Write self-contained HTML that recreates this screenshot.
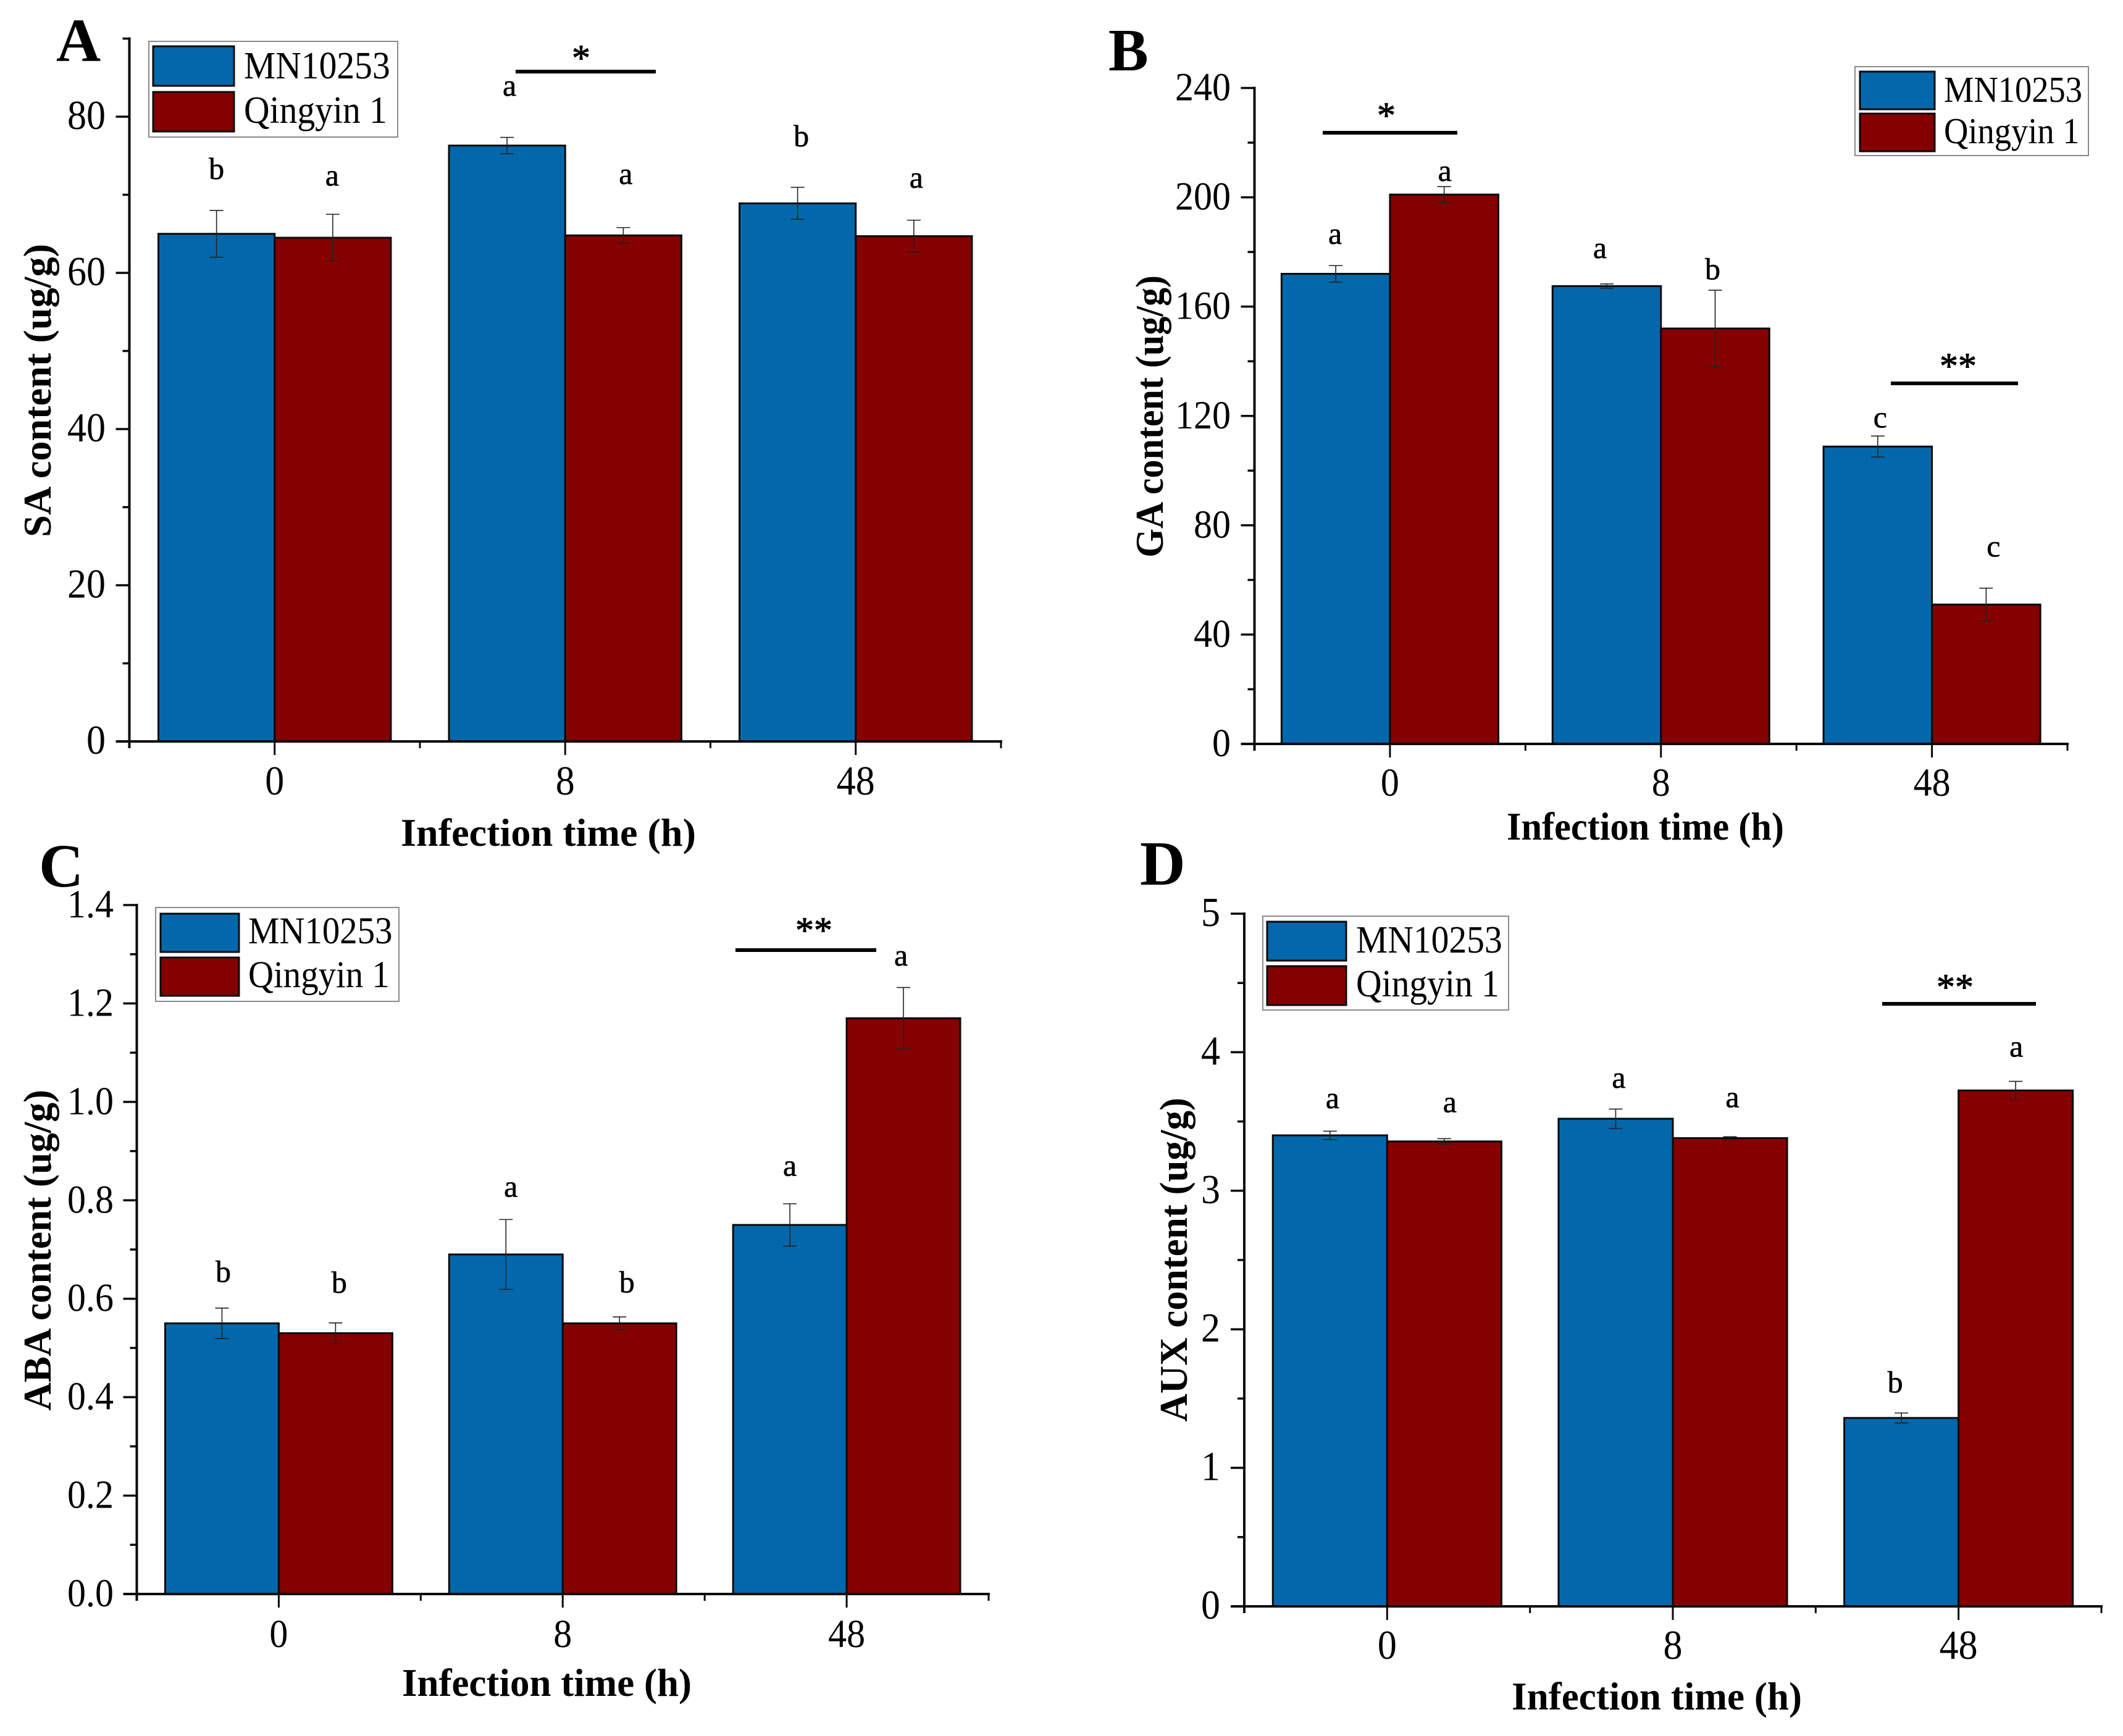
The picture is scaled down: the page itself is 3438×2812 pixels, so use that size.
<!DOCTYPE html>
<html lang="en">
<head>
<meta charset="utf-8">
<title>Hormone content after infection</title>
<style>
html,body{margin:0;padding:0;background:#fff;}
svg{display:block;font-family:"Liberation Serif",serif;}
</style>
</head>
<body>
<svg id="figure" xmlns="http://www.w3.org/2000/svg" width="3438" height="2812" viewBox="0 0 3438 2812"></svg>
<script>
const categories = ['0', '8', '48'];
const seriesNames = ['MN10253', 'Qingyin 1'];

const saTicks = [0, 20, 40, 60, 80];
const saTickLabels = ['0', '20', '40', '60', '80'];
const saMinorTicks = [10, 30, 50, 70, 90];
const saMN = [65, 76.3, 68.9];
const saQY = [64.5, 64.8, 64.7];
const saMNErr = [3, 1.05, 2.05];
const saQYErr = [3, 1, 2.05];
const saMNLetters = ['b', 'a', 'b'];
const saQYLetters = ['a', 'a', 'a'];

const gaTicks = [0, 40, 80, 120, 160, 200, 240];
const gaTickLabels = ['0', '40', '80', '120', '160', '200', '240'];
const gaMinorTicks = [20, 60, 100, 140, 180, 220];
const gaMN = [172, 167.5, 108.8];
const gaQY = [201, 152, 51];
const gaMNErr = [3, 0.8, 3.85];
const gaQYErr = [2.9, 14, 6];
const gaMNLetters = ['a', 'a', 'c'];
const gaQYLetters = ['a', 'b', 'c'];

const abaTicks = [0, 0.2, 0.4, 0.6, 0.8, 1.0, 1.2, 1.4];
const abaTickLabels = ['0.0', '0.2', '0.4', '0.6', '0.8', '1.0', '1.2', '1.4'];
const abaMinorTicks = [0.1, 0.3, 0.5, 0.7, 0.9, 1.1, 1.3];
const abaMN = [0.55, 0.69, 0.75];
const abaQY = [0.53, 0.55, 1.17];
const abaMNErr = [0.031, 0.071, 0.043];
const abaQYErr = [0.021, 0.013, 0.0625];
const abaMNLetters = ['b', 'a', 'a'];
const abaQYLetters = ['b', 'b', 'a'];

const auxTicks = [0, 1, 2, 3, 4, 5];
const auxTickLabels = ['0', '1', '2', '3', '4', '5'];
const auxMinorTicks = [0.5, 1.5, 2.5, 3.5, 4.5];
const auxMN = [3.4, 3.52, 1.36];
const auxQY = [3.356, 3.38, 3.724];
const auxMNErr = [0.03, 0.07, 0.036];
const auxQYErr = [0.02, 0.01, 0.066];
const auxMNLetters = ['a', 'a', 'b'];
const auxQYLetters = ['a', 'a', 'a'];

const BLUE = '#0368ab';
const RED = '#850000';
const INK = '#0a0a0a';
const TALL = 1.08;
const NS = 'http://www.w3.org/2000/svg';
const figure = document.getElementById('figure');

function make(parent, tag, attrs, text) {
  const node = document.createElementNS(NS, tag);
  for (const key in attrs) node.setAttribute(key, attrs[key]);
  if (text !== undefined) node.textContent = text;
  parent.appendChild(node);
  return node;
}

function tallAt(x, y) {
  return 'translate(' + x + ' ' + y + ') scale(' + (1 / TALL) + ' 1)';
}

function drawPanel(p) {
  const group = make(figure, 'g', {});
  
  

  const step = (p.right - p.left) / categories.length;
  const xCenter = i => p.left + (i + 0.5) * step;
  const xEdge = i => p.left + i * step;
  const y = v => p.base - (v / p.yMax) * (p.base - p.top);
  const barW = step * 0.4;

  const label = make(group, 'text', {x: p.letter.x, y: p.letter.y, 'font-size': p.letter.size, 'font-weight': 'bold', fill: '#000'}, p.letter.text);
  
  

  [[p.mn, BLUE, 0], [p.qy, RED, 1]].forEach(function (s) {
    s[0].forEach(function (value, i) {
      const c = xCenter(i);
      const x0 = s[2] === 0 ? c - barW : c;
      const bar = make(group, 'rect', {x: x0, y: y(value), width: barW, height: p.base - y(value), fill: s[1], stroke: INK, 'stroke-width': 3});
      
      
    });
  });

  [[p.mn, p.mnErr, p.mnLetters, p.mnGaps, p.mnDx, 0],
   [p.qy, p.qyErr, p.qyLetters, p.qyGaps, p.qyDx, 1]].forEach(function (s) {
    s[0].forEach(function (value, i) {
      const c = xCenter(i);
      const mid = s[5] === 0 ? c - barW / 2 : c + barW / 2;
      const err = s[1][i];
      const eb = make(group, 'path', {
        d: 'M' + mid + ' ' + y(value + err) + 'V' + y(value - err) +
           'M' + (mid - 11) + ' ' + y(value + err) + 'h22' +
           'M' + (mid - 11) + ' ' + y(value - err) + 'h22',
        fill: 'none', stroke: '#222', 'stroke-width': 1.6});
      
      
      const sig = make(group, 'text', {x: mid + s[4][i], y: y(value + err + s[3][i]), 'font-size': 50, 'text-anchor': 'middle', fill: '#000', stroke: '#000', 'stroke-width': 0.6}, s[2][i]);
      
      
    });
  });

  const yAxis = make(group, 'line', {x1: p.left, x2: p.left, y1: p.top - 2, y2: p.base + 11, stroke: INK, 'stroke-width': 4});
  
  
  const xAxis = make(group, 'line', {x1: p.left - 22, x2: p.right + 2, y1: p.base, y2: p.base, stroke: INK, 'stroke-width': 4});
  
  

  p.ticks.forEach(function (t, i) {
    const tick = make(group, 'line', {x1: p.left - 22, x2: p.left, y1: y(t), y2: y(t), stroke: INK, 'stroke-width': 3.5});
    
    
    const tl = make(group, 'text', {transform: tallAt(p.tickRight, y(t) + 20), 'font-size': p.tickSize * TALL, 'text-anchor': 'end', fill: '#000'}, p.tickLabels[i]);
    
    
  });
  p.minor.forEach(function (t) {
    const tick = make(group, 'line', {x1: p.left - 11, x2: p.left, y1: y(t), y2: y(t), stroke: INK, 'stroke-width': 3.5});
    
    
  });

  categories.forEach(function (cat, i) {
    const tick = make(group, 'line', {x1: xCenter(i), x2: xCenter(i), y1: p.base, y2: p.base + 22, stroke: INK, 'stroke-width': 3});
    
    
    const tl = make(group, 'text', {transform: tallAt(xCenter(i), p.xTickBase), 'font-size': p.tickSize * TALL, 'text-anchor': 'middle', fill: '#000'}, cat);
    
    
  });
  for (let i = 0; i <= categories.length; i++) {
    const tick = make(group, 'line', {x1: xEdge(i), x2: xEdge(i), y1: p.base, y2: p.base + 11, stroke: INK, 'stroke-width': 3});
    
    
  }

  const xTitle = make(group, 'text', {x: p.xTitle.x, y: p.xTitle.y, 'font-size': 63, 'font-weight': 'bold', textLength: p.xTitle.len, lengthAdjust: 'spacingAndGlyphs', fill: '#000'}, 'Infection time (h)');
  
  

  const yTitle = make(group, 'text', {transform: 'translate(' + p.yTitle.x + ' ' + p.yTitle.y + ') rotate(-90)', 'font-size': 63, 'font-weight': 'bold', textLength: p.yTitle.len, lengthAdjust: 'spacingAndGlyphs', fill: '#000'}, p.yTitle.text);
  
  

  p.sig.forEach(function (b) {
    const rule = make(group, 'line', {x1: b.x1, x2: b.x2, y1: b.y, y2: b.y, stroke: '#000', 'stroke-width': 6});
    
    
    const star = make(group, 'text', {x: b.sx, y: b.sy + 28, 'font-size': 60, 'text-anchor': 'middle', fill: '#000', stroke: '#000', 'stroke-width': 1}, b.text);
    
    
  });

  const L = p.legend;
  const box = make(group, 'rect', {x: L.x, y: L.y, width: L.w, height: L.h, fill: '#fff', stroke: '#8a8a8a', 'stroke-width': 2});
  
  
  [BLUE, RED].forEach(function (color, k) {
    const sw = make(group, 'rect', {x: L.sx, y: L.sy[k], width: L.sw, height: L.sh, fill: color, stroke: INK, 'stroke-width': 3});
    
    
    const t = make(group, 'text', {transform: tallAt(L.tx, L.ty[k]), 'font-size': L.size * TALL, fill: '#000'}, seriesNames[k]);
    
    
  });
}

drawPanel({
  key: 'sa', left: 209.5, right: 1621, base: 1201, top: 62.5, yMax: 90,
  ticks: saTicks, tickLabels: saTickLabels, minor: saMinorTicks,
  mn: saMN, qy: saQY, mnErr: saMNErr, qyErr: saQYErr,
  mnLetters: saMNLetters, qyLetters: saQYLetters,
  mnGaps: [4, 5.35, 5.25], qyGaps: [3.7, 5.6, 4.15],
  mnDx: [0, 4, 6], qyDx: [-1, 4, 4],
  tickRight: 171, tickSize: 62, xTickBase: 1287,
  letter: {text: 'A', x: 91, y: 99, size: 100},
  xTitle: {x: 649, y: 1370, len: 478},
  yTitle: {text: 'SA content (ug/g)', x: 82, y: 870, len: 475},
  sig: [{x1: 835, x2: 1062, y: 116, sx: 941, sy: 86, text: '*'}],
  legend: {x: 241, y: 67, w: 403, h: 155, sx: 248, sy: [75, 149], sw: 131, sh: 64, tx: 395, ty: [127, 199], size: 57.6}
});

drawPanel({
  key: 'ga', left: 2031.5, right: 3348, base: 1205, top: 142.5, yMax: 240,
  ticks: gaTicks, tickLabels: gaTickLabels, minor: gaMinorTicks,
  mn: gaMN, qy: gaQY, mnErr: gaMNErr, qyErr: gaQYErr,
  mnLetters: gaMNLetters, qyLetters: gaQYLetters,
  mnGaps: [8, 9.5, 3.15], qyGaps: [2.1, 4, 11.6],
  mnDx: [-1, -11, 4], qyDx: [1, -4, 12],
  tickRight: 1993, tickSize: 60, xTickBase: 1289,
  letter: {text: 'B', x: 1795, y: 114, size: 97},
  xTitle: {x: 2440, y: 1360, len: 449},
  yTitle: {text: 'GA content (ug/g)', x: 1883, y: 903, len: 457},
  sig: [{x1: 2142, x2: 2360, y: 215, sx: 2245, sy: 179, text: '*'},
        {x1: 3062, x2: 3268, y: 621, sx: 3171, sy: 585, text: '**'}],
  legend: {x: 3004, y: 108, w: 378, h: 144, sx: 3012, sy: [116, 184], sw: 121, sh: 61, tx: 3148, ty: [165, 232], size: 54.5}
});

drawPanel({
  key: 'aba', left: 221.5, right: 1601, base: 2582, top: 1466, yMax: 1.4,
  ticks: abaTicks, tickLabels: abaTickLabels, minor: abaMinorTicks,
  mn: abaMN, qy: abaQY, mnErr: abaMNErr, qyErr: abaQYErr,
  mnLetters: abaMNLetters, qyLetters: abaQYLetters,
  mnGaps: [0.053, 0.046, 0.057], qyGaps: [0.061, 0.05, 0.0445],
  mnDx: [2, 8, 0], qyDx: [6, 12, -4],
  tickRight: 184, tickSize: 60, xTickBase: 2668,
  letter: {text: 'C', x: 63, y: 1436, size: 100},
  xTitle: {x: 651, y: 2747, len: 469},
  yTitle: {text: 'ABA content (ug/g)', x: 82, y: 2285, len: 520},
  sig: [{x1: 1191, x2: 1419, y: 1539, sx: 1318, sy: 1499, text: '**'}],
  legend: {x: 252, y: 1470, w: 394, h: 152, sx: 260, sy: [1480, 1551], sw: 127, sh: 62, tx: 402, ty: [1528, 1599], size: 56.8}
});

drawPanel({
  key: 'aux', left: 2015, right: 3403, base: 2602, top: 1480, yMax: 5,
  ticks: auxTicks, tickLabels: auxTickLabels, minor: auxMinorTicks,
  mn: auxMN, qy: auxQY, mnErr: auxMNErr, qyErr: auxQYErr,
  mnLetters: auxMNLetters, qyLetters: auxQYLetters,
  mnGaps: [0.166, 0.154, 0.148], qyGaps: [0.192, 0.214, 0.178],
  mnDx: [4, 5, -10], qyDx: [9, 4, 1],
  tickRight: 1976, tickSize: 62, xTickBase: 2687,
  letter: {text: 'D', x: 1846, y: 1433, size: 102},
  xTitle: {x: 2448, y: 2769, len: 470},
  yTitle: {text: 'AUX content (ug/g)', x: 1922, y: 2303, len: 525},
  sig: [{x1: 3048, x2: 3297, y: 1626, sx: 3166, sy: 1591, text: '**'}],
  legend: {x: 2045, y: 1484, w: 398, h: 152, sx: 2052, sy: [1493, 1565], sw: 128, sh: 63, tx: 2196, ty: [1543, 1614], size: 57.6}
});
</script>
</body>
</html>
